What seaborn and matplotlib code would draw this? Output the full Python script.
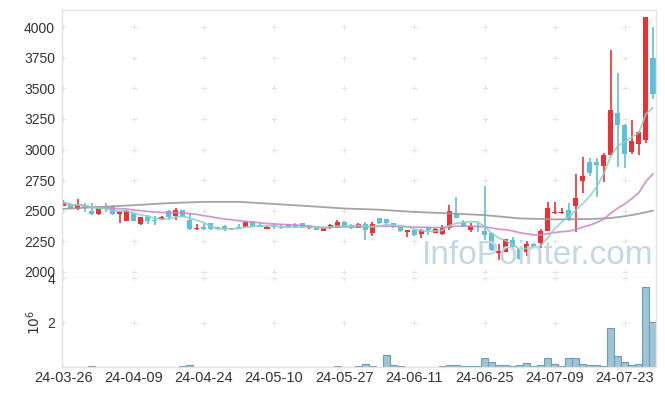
import numpy as np
import pandas as pd
import matplotlib
matplotlib.use("Agg")
import matplotlib.pyplot as plt
import seaborn as sns

# tick labels, one every 10 trading days
date_ticks = ["24-03-26", "24-04-09", "24-04-24", "24-05-10", "24-05-27",
              "24-06-11", "24-06-25", "24-07-09", "24-07-23"]

# daily prices (85 trading days)
opens = [2540, 2545, 2510, 2540, 2497, 2470, 2537, 2537, 2470, 2418,
         2478, 2388, 2450, 2423, 2429, 2497, 2458, 2505, 2423, 2352,
         2366, 2396, 2363, 2372, 2350, 2369, 2369, 2404, 2382, 2352,
         2374, 2369, 2388, 2382, 2396, 2355, 2369, 2333, 2355, 2360,
         2409, 2382, 2360, 2388, 2315, 2437, 2429, 2396, 2363, 2328,
         2341, 2309, 2355, 2320, 2306, 2360, 2470, 2405, 2345, 2374,
         2336, 2314, 2151, 2164, 2260, 2184, 2164, 2224, 2238, 2336,
         2478, 2478, 2505, 2540, 2744, 2894, 2894, 2867, 2954, 3295,
         3199, 2976, 3044, 3077, 3744]
highs = [2587, 2560, 2592, 2560, 2565, 2532, 2560, 2546, 2500, 2505,
         2485, 2450, 2464, 2456, 2455, 2505, 2519, 2505, 2478, 2390,
         2400, 2398, 2369, 2380, 2360, 2390, 2415, 2415, 2396, 2374,
         2396, 2388, 2393, 2396, 2401, 2382, 2370, 2360, 2388, 2423,
         2415, 2388, 2396, 2409, 2405, 2442, 2435, 2401, 2369, 2345,
         2347, 2347, 2369, 2355, 2382, 2546, 2614, 2420, 2400, 2396,
         2701, 2320, 2227, 2270, 2282, 2190, 2252, 2235, 2347, 2573,
         2573, 2519, 2560, 2799, 2935, 2927, 2927, 2968, 3812, 3627,
         3210, 3240, 3150, 4084, 3997]
lows = [2538, 2513, 2508, 2491, 2464, 2468, 2491, 2464, 2396, 2415,
        2415, 2386, 2388, 2382, 2423, 2423, 2423, 2450, 2341, 2345,
        2340, 2341, 2341, 2336, 2341, 2350, 2365, 2369, 2365, 2347,
        2347, 2347, 2360, 2355, 2355, 2352, 2341, 2330, 2347, 2358,
        2363, 2350, 2355, 2260, 2290, 2395, 2369, 2355, 2322, 2287,
        2295, 2273, 2300, 2314, 2300, 2341, 2437, 2365, 2328, 2328,
        2260, 2172, 2096, 2160, 2197, 2096, 2130, 2197, 2192, 2330,
        2475, 2470, 2418, 2322, 2646, 2783, 2614, 2736, 2946, 2859,
        2846, 2962, 2954, 3055, 3409]
closes = [2568, 2524, 2548, 2530, 2470, 2524, 2513, 2472, 2497, 2497,
          2418, 2446, 2418, 2418, 2446, 2450, 2505, 2450, 2347, 2360,
          2350, 2350, 2347, 2350, 2360, 2360, 2409, 2377, 2369, 2369,
          2363, 2360, 2366, 2369, 2366, 2374, 2344, 2355, 2382, 2409,
          2369, 2355, 2388, 2341, 2390, 2401, 2401, 2369, 2333, 2341,
          2300, 2341, 2339, 2347, 2369, 2497, 2437, 2375, 2372, 2363,
          2300, 2178, 2172, 2266, 2200, 2102, 2224, 2205, 2333, 2518,
          2491, 2489, 2423, 2600, 2783, 2804, 2873, 2954, 3322, 3199,
          2962, 3069, 3142, 4084, 3453]
# volume in millions of shares
volumes = [0.01, 0.01, 0.01, 0.01, 0.04, 0.01, 0.01, 0.01, 0.01, 0.01,
           0.01, 0.01, 0.01, 0.01, 0.01, 0.01, 0.01, 0.04, 0.09, 0.01,
           0.01, 0.01, 0.01, 0.01, 0.01, 0.01, 0.01, 0.01, 0.01, 0.01,
           0.01, 0.01, 0.01, 0.01, 0.01, 0.01, 0.01, 0.01, 0.01, 0.04,
           0.01, 0.01, 0.04, 0.13, 0.04, 0.01, 0.52, 0.07, 0.04, 0.01,
           0.01, 0.01, 0.01, 0.01, 0.04, 0.09, 0.09, 0.04, 0.04, 0.04,
           0.40, 0.22, 0.09, 0.09, 0.04, 0.09, 0.16, 0.04, 0.09, 0.40,
           0.13, 0.03, 0.40, 0.40, 0.13, 0.09, 0.09, 0.04, 1.76, 0.49,
           0.22, 0.09, 0.13, 3.60, 2.04]

ma60_days = [0, 5, 10, 15, 20, 25, 30, 35, 40, 45, 50, 55, 60, 65, 70, 75, 78, 80, 82, 84]
ma60_vals = [2515, 2530, 2545, 2562, 2572, 2572, 2555, 2537, 2518, 2508,
             2490, 2478, 2464, 2437, 2429, 2432, 2440, 2455, 2475, 2500]

df = pd.DataFrame({"open": opens, "high": highs, "low": lows,
                   "close": closes, "volume": volumes})
df["day"] = np.arange(len(df))
df["ma5"] = df["close"].rolling(5, min_periods=1).mean()
df["ma20"] = df["close"].rolling(20, min_periods=1).mean()
up = df["close"] >= df["open"]

RED = "#ee2f33"
BLUE = "#62bfd9"

sns.set_style("white")
plt.rcParams["font.family"] = ["Liberation Sans", "DejaVu Sans"]

fig = plt.figure(figsize=(6.65, 3.96), dpi=100)
ax = fig.add_axes([62 / 665, 1 - 278 / 396, 594 / 665, 268 / 396])
axv = fig.add_axes([62 / 665, 1 - 367 / 396, 594 / 665, 89 / 396], sharex=ax)

# candles
col = np.where(up, RED, BLUE)
ax.vlines(df["day"], df["low"], df["high"], colors=col, linewidth=1.2, zorder=2)
body_lo = df[["open", "close"]].min(axis=1)
body_h = (df["close"] - df["open"]).abs().clip(lower=6)
ax.bar(df["day"], body_h, bottom=body_lo, width=0.72, color=col, linewidth=0, zorder=2)

# moving averages
sns.lineplot(x=ma60_days, y=ma60_vals, ax=ax, color="#9a9a9a", linewidth=1.3, alpha=0.9, zorder=3)
sns.lineplot(data=df, x="day", y="ma20", ax=ax, color="#cc86c9", linewidth=1.3, alpha=0.85, zorder=3)
sns.lineplot(data=df, x="day", y="ma5", ax=ax, color="#8fd0c3", linewidth=1.3, alpha=0.85, zorder=3)

ax.text(0.80, 0.085, "InfoPointer.com", transform=ax.transAxes, ha="center", va="center",
        fontsize=24, color="#c3d8e4", zorder=4)

price_ticks = np.arange(2000, 4001, 250)
ax.set_ylim(1950, 4140)
ax.set_yticks(price_ticks)
ax.set_ylabel("")
ax.set_xlabel("")

# volume bars
axv.bar(df["day"], df["volume"], width=1.0, color="#9fc4d6", edgecolor="#6c9db4",
        linewidth=0.8, zorder=2)
axv.set_ylim(0, 4.02)
axv.set_yticks([2, 4])
axv.set_yticklabels(["2", "4"])
axv.set_ylabel("$10^6$", fontsize=10, color="#333333", labelpad=3)

tick_pos = np.arange(0, 81, 10)
axv.set_xlim(-0.21, 84.43)
axv.set_xticks(tick_pos)
axv.set_xticklabels(date_ticks)
plt.setp(ax.get_xticklabels(), visible=False)

# "+" grid marks at tick crossings
gx, gy = np.meshgrid(tick_pos, price_ticks)
ax.scatter(gx.ravel(), gy.ravel(), marker="+", s=14, color="#e0e0e0", linewidths=0.6, zorder=1)
gx, gy = np.meshgrid(tick_pos, [2, 4])
axv.scatter(gx.ravel(), gy.ravel(), marker="+", s=14, color="#e0e0e0", linewidths=0.6, zorder=1)

for a in (ax, axv):
    a.tick_params(axis="both", length=0, labelsize=10, labelcolor="#333333", pad=5)
    for s in a.spines.values():
        s.set_color("#e3e3e3")
        s.set_linewidth(1.0)
axv.spines["top"].set_visible(False)
axv.tick_params(axis="x", labelsize=10.5, pad=3)

fig.savefig("out.png", dpi=100)
